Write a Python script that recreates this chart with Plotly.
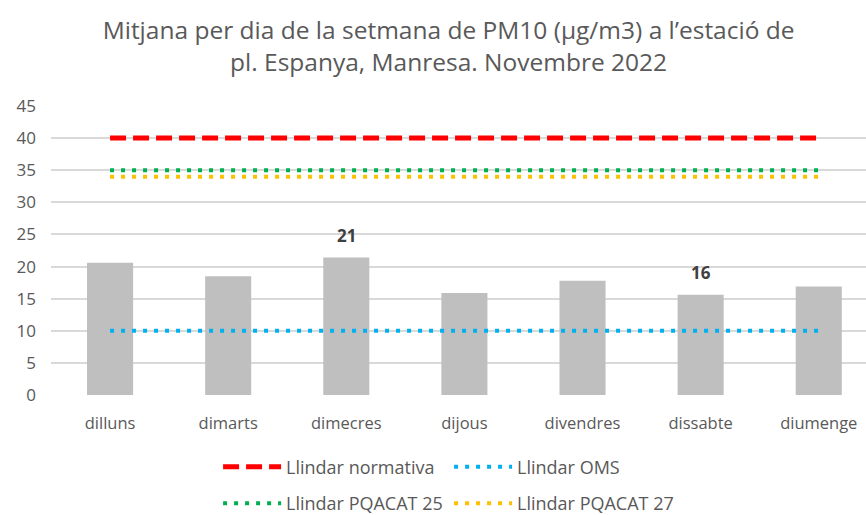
import plotly.graph_objects as go

# Mitjana per dia de la setmana, PM10 (µg/m3), pl. Espanya, Manresa, novembre 2022
dies = ['dilluns', 'dimarts', 'dimecres', 'dijous', 'divendres', 'dissabte', 'diumenge']
mitjana_pm10 = [20.6, 18.5, 21.4, 15.9, 17.8, 15.6, 16.9]
etiquetes = ['', '', '21', '', '', '16', '']

# llindars (constants per a tots els dies)
llindar_normativa = [40, 40, 40, 40, 40, 40, 40]
llindar_oms = [10, 10, 10, 10, 10, 10, 10]
llindar_pqacat25 = [35, 35, 35, 35, 35, 35, 35]
llindar_pqacat27 = [34, 34, 34, 34, 34, 34, 34]

gris = '#595959'
font_family = 'Open Sans, Liberation Sans, sans-serif'

fig = go.Figure()

fig.add_trace(go.Bar(
    x=dies, y=mitjana_pm10,
    marker=dict(color='#BFBFBF', line=dict(width=0)),
    width=0.39,
    showlegend=False,
    hoverinfo='x+y',
))

fig.add_trace(go.Scatter(
    x=dies, y=llindar_normativa, mode='lines', name='Llindar normativa',
    line=dict(color='#FF0000', width=5, dash='16px,7px'), legend='legend',
))
fig.add_trace(go.Scatter(
    x=dies, y=llindar_oms, mode='lines', name='Llindar OMS',
    line=dict(color='#00B0F0', width=4, dash='4px,7px'), legend='legend',
))
fig.add_trace(go.Scatter(
    x=dies, y=llindar_pqacat25, mode='lines', name='Llindar PQACAT 25',
    line=dict(color='#00B050', width=4, dash='4px,7px'), legend='legend2',
))
fig.add_trace(go.Scatter(
    x=dies, y=llindar_pqacat27, mode='lines', name='Llindar PQACAT 27',
    line=dict(color='#FFC000', width=4, dash='4px,7px'), legend='legend2',
))

# etiquetes de dades només a dimecres i dissabte
for dia, valor, etiqueta in zip(dies, mitjana_pm10, etiquetes):
    if etiqueta:
        fig.add_annotation(
            x=dia, y=valor, text=etiqueta, showarrow=False,
            yanchor='bottom', yshift=9,
            font=dict(size=17, color='#404040', family=font_family, weight='bold'),
        )

legend_common = dict(
    orientation='h', xanchor='left', yanchor='middle', x=0.205, yref='container',
    font=dict(size=18, color=gris, family=font_family),
    entrywidth=158, entrywidthmode='pixels', itemwidth=58,
    bgcolor='rgba(0,0,0,0)', traceorder='normal',
)

fig.update_layout(
    width=866, height=515,
    margin=dict(l=51, r=0, t=106, b=120, autoexpand=False),
    paper_bgcolor='white', plot_bgcolor='white',
    font=dict(family=font_family, color=gris),
    title=dict(
        text='Mitjana per dia de la setmana de PM10 (µg/m3) a l’estació de<br>pl. Espanya, Manresa. Novembre 2022',
        x=0.518, xanchor='center', y=0.924, yanchor='middle',
        font=dict(size=24.5, color=gris, family=font_family),
    ),
    legend=dict(legend_common, y=0.093),
    legend2=dict(legend_common, y=0.022),
)

fig.update_xaxes(
    range=[-0.5, 6.4], showgrid=False, showline=False, ticks='', automargin=False,
    tickfont=dict(size=16.5, color=gris, family=font_family),
    ticklabelstandoff=16,
)
fig.update_yaxes(
    range=[0, 45], dtick=5, showgrid=True, gridcolor='#D9D9D9', gridwidth=1.5,
    zeroline=False, showline=False, ticks='', automargin=False,
    tickfont=dict(size=17, color=gris, family=font_family),
    ticklabelstandoff=14,
)

# la pàgina té un marge per defecte de 8px al body; el traiem
fig.write_html(
    'out.html',
    config={'displayModeBar': False},
    post_script="document.body.style.margin='0';",
)
